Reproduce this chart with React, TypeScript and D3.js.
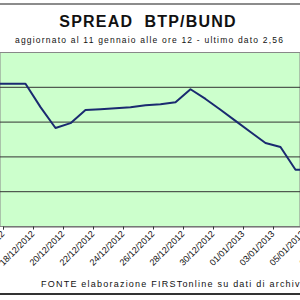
import { useEffect, useRef } from "react";
import * as d3 from "d3";

// daily spread values (BTP - Bund, percentage points), one per day from 15/12/2012
const startDay = new Date(2012, 11, 15);
const spreadValues = [
  3.22, 3.22, 3.22, 3.086, 2.966, 2.994, 3.069, 3.074, 3.08, 3.086, 3.097, 3.103,
  3.114, 3.189, 3.133, 3.071, 3.007, 2.943, 2.88, 2.857, 2.726, 2.726,
];
const gridValues = [2.6, 2.8, 3.0, 3.2];
const tickDates = d3.timeDay.range(new Date(2012, 11, 16), new Date(2013, 0, 9), 2);

const title = "SPREAD  BTP/BUND";
const subtitle = "aggiornato al 11 gennaio alle ore 12 - ultimo dato 2,56";
const source = "FONTE elaborazione FIRSTonline su dati di archivio";

export default function App() {
  const svgRef = useRef<SVGSVGElement | null>(null);

  useEffect(() => {
    if (!svgRef.current) return;
    const svg = d3.select(svgRef.current);
    svg.selectAll("*").remove();

    const width = 300;
    const height = 300;
    const plot = { top: 52.5, bottom: 226.5 };
    const font = "'Liberation Sans', Arial, sans-serif";

    svg.attr("width", width).attr("height", height);

    svg.append("rect").attr("width", width).attr("height", height).attr("fill", "#ffffff");

    // frame lines top / bottom
    svg.append("line").attr("x1", 0).attr("x2", width).attr("y1", 4).attr("y2", 4)
      .attr("stroke", "#666").attr("stroke-width", 1.5);
    svg.append("line").attr("x1", 0).attr("x2", width).attr("y1", 294).attr("y2", 294)
      .attr("stroke", "#333").attr("stroke-width", 2);

    // titles
    svg.append("text").attr("x", 148).attr("y", 27).attr("text-anchor", "middle")
      .attr("font-family", font).attr("font-size", 16).attr("font-weight", "bold")
      .attr("letter-spacing", 1.2).attr("fill", "#111").style("white-space", "pre")
      .text(title);
    svg.append("text").attr("x", 15).attr("y", 43)
      .attr("font-family", font).attr("font-size", 8.5).attr("fill", "#111")
      .attr("textLength", 268).attr("lengthAdjust", "spacing")
      .text(subtitle);

    // scales
    const x = d3.scaleTime()
      .domain([new Date(2012, 11, 16), new Date(2013, 0, 5)])
      .range([3, 303]);
    const y = d3.scaleLinear().domain([2.4, 3.4]).range([plot.bottom, plot.top]);

    // plot area
    svg.append("rect").attr("x", 0).attr("y", plot.top).attr("width", width)
      .attr("height", plot.bottom - plot.top).attr("fill", "#ccffcc")
      .attr("stroke", "#888").attr("stroke-width", 1);

    svg.append("g").selectAll("line").data(gridValues).join("line")
      .attr("x1", 0).attr("x2", width)
      .attr("y1", (d) => y(d)).attr("y2", (d) => y(d))
      .attr("stroke", "#333").attr("stroke-width", 1);

    // x axis
    const xAxis = svg.append("g").attr("transform", `translate(0,${plot.bottom})`)
      .call(d3.axisBottom(x).tickValues(tickDates).tickSize(3).tickFormat(() => ""));
    xAxis.select(".domain").attr("stroke", "#666");
    xAxis.selectAll(".tick line").attr("stroke", "#333");

    svg.append("g").selectAll("text").data(tickDates).join("text")
      .attr("transform", (d) => `translate(${x(d) + 2},${plot.bottom + 8}) rotate(-45)`)
      .attr("text-anchor", "end")
      .attr("font-family", font).attr("font-size", 9).attr("fill", "#111")
      .text((d) => d3.timeFormat("%d/%m/%Y")(d));

    // line
    const points = spreadValues.map((v, i) => ({
      date: d3.timeHour.offset(d3.timeDay.offset(startDay, i), 12),
      value: v,
    }));
    const line = d3.line<{ date: Date; value: number }>()
      .x((d) => x(d.date))
      .y((d) => y(d.value));
    svg.append("path").datum(points).attr("d", line)
      .attr("fill", "none").attr("stroke", "#1a2a70").attr("stroke-width", 2)
      .attr("stroke-linejoin", "round");

    // source
    svg.append("text").attr("x", 41).attr("y", 287)
      .attr("font-family", font).attr("font-size", 9).attr("fill", "#111")
      .attr("textLength", 268).attr("lengthAdjust", "spacing")
      .text(source);
  }, []);

  return (
    <svg
      ref={svgRef}
      style={{ position: "absolute", left: 0, top: 0, display: "block" }}
    ></svg>
  );
}
